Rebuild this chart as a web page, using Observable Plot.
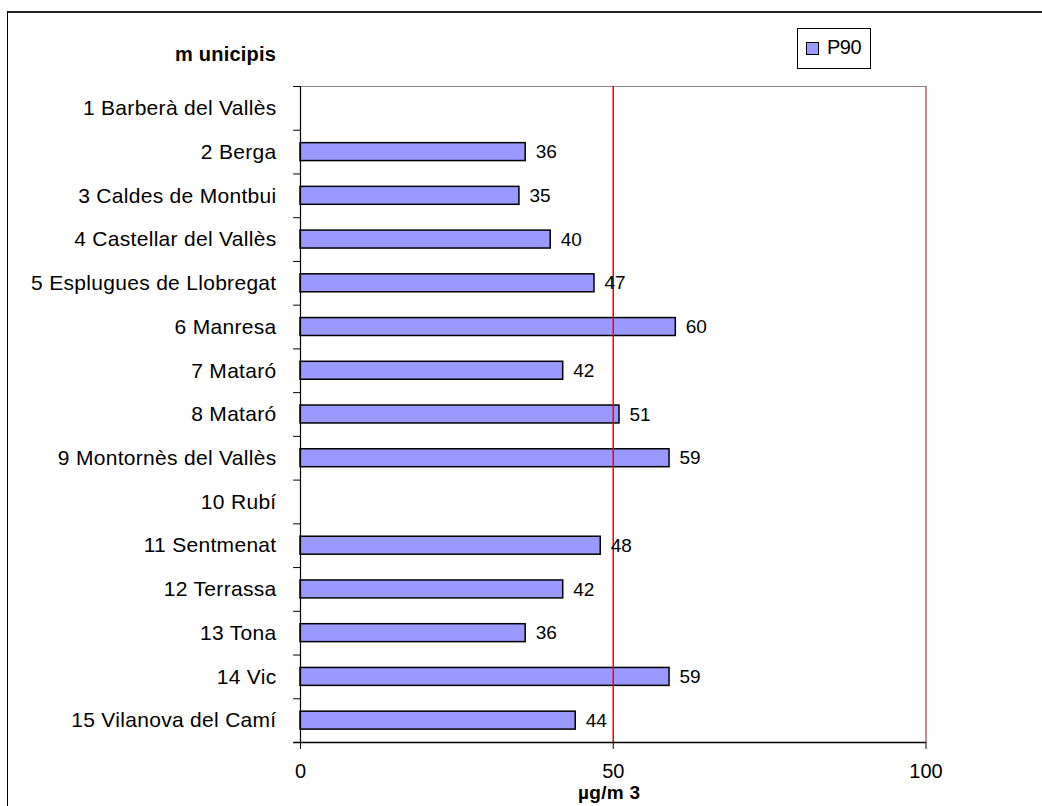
<!DOCTYPE html>
<html>
<head>
<meta charset="utf-8">
<script src="https://cdn.jsdelivr.net/npm/d3@7"></script>
<script src="https://cdn.jsdelivr.net/npm/@observablehq/plot@0.6"></script>
<style>
  html, body { margin: 0; padding: 0; background: #fff; }
  #wrap { position: relative; width: 1042px; height: 806px; overflow: hidden; font-family: "Liberation Sans", Arial, sans-serif; }
  #border { position: absolute; left: 7px; top: 11px; width: 1100px; height: 900px; border-left: 1px solid #000; border-top: 2px solid #222; }
  #chart { position: absolute; left: 0; top: 0; }
  #chart svg g[aria-label="y-axis tick label"] text { letter-spacing: 0.3px; }
  #legend { position: absolute; left: 797px; top: 28px; width: 74px; height: 41px; border: 1px solid #000; background: #fff; box-sizing: border-box; }
  #legend .sw { position: absolute; left: 8px; top: 13px; width: 11px; height: 11px; background: #9999ff; border: 1px solid #000; }
  #legend .lb { position: absolute; left: 29px; top: 7px; font-size: 20px; letter-spacing: -0.5px; color: #000; }
  #ytitle { position: absolute; right: 766px; top: 43px; font-size: 20px; font-weight: bold; color: #000; letter-spacing: 0.2px; }
  #xtitle { position: absolute; left: 578px; top: 782px; font-size: 19px; font-weight: bold; color: #000; letter-spacing: 0.3px; }
</style>
</head>
<body>
<div id="wrap">
  <div id="border"></div>
  <div id="chart"></div>
  <div id="legend"><div class="sw"></div><div class="lb">P90</div></div>
  <div id="ytitle">m unicipis</div>
  <div id="xtitle">µg/m 3</div>
</div>
<script>
const municipis = [
  "1 Barberà del Vallès", "2 Berga", "3 Caldes de Montbui", "4 Castellar del Vallès",
  "5 Esplugues de Llobregat", "6 Manresa", "7 Mataró", "8 Mataró ",
  "9 Montornès del Vallès", "10 Rubí", "11 Sentmenat", "12 Terrassa",
  "13 Tona", "14 Vic", "15 Vilanova del Camí"
];
const p90 = [null, 36, 35, 40, 47, 60, 42, 51, 59, null, 48, 42, 36, 59, 44];
const xTicks = [0, 50, 100];
const limits = [50, 100];

const data = municipis.map((m, i) => ({municipi: m, p90: p90[i]}));
const withValue = data.filter(d => d.p90 != null);

const marginTop = 86, marginBottom = 64;
const step = (806 - marginTop - marginBottom) / municipis.length;

const chart = Plot.plot({
  width: 1042,
  height: 806,
  marginLeft: 300,
  marginRight: 116.5,
  marginTop,
  marginBottom,
  style: {fontFamily: "'Liberation Sans', Arial, sans-serif", background: "transparent", color: "#000"},
  x: {domain: [0, 100]},
  y: {domain: municipis, paddingInner: 0.59, paddingOuter: 0.295, round: false},
  marks: [
    Plot.frame({stroke: "#888"}),
    Plot.barX(withValue, {x: "p90", y: "municipi", fill: "#9999ff", stroke: "#000", strokeWidth: 1.5}),
    Plot.ruleX(limits, {stroke: (d) => d === 50 ? "#ff0000" : "#c07878", strokeWidth: 1.5}),
    Plot.ruleX([0], {stroke: "#000", strokeWidth: 1.2}),
    Plot.ruleY(municipis, {y: d => d, x1: -1.1, x2: 0, dy: -step / 2, stroke: "#000"}),
    Plot.ruleY([municipis[municipis.length - 1]], {y: d => d, x1: -1.1, x2: 100, dy: step / 2, stroke: "#000", strokeWidth: 1.5}),
    Plot.text(withValue, {x: "p90", y: "municipi", text: d => String(d.p90), textAnchor: "start", dx: 10, fontSize: 19, fill: "#000"}),
    Plot.axisY({tickSize: 0, tickPadding: 24, fontSize: 21, label: null, tickFormat: d => d.trim()}),
    Plot.axisX({ticks: xTicks, tickSize: 7, tickPadding: 14, fontSize: 20, label: null})
  ]
});
document.getElementById("chart").appendChild(chart);
</script>
</body>
</html>
